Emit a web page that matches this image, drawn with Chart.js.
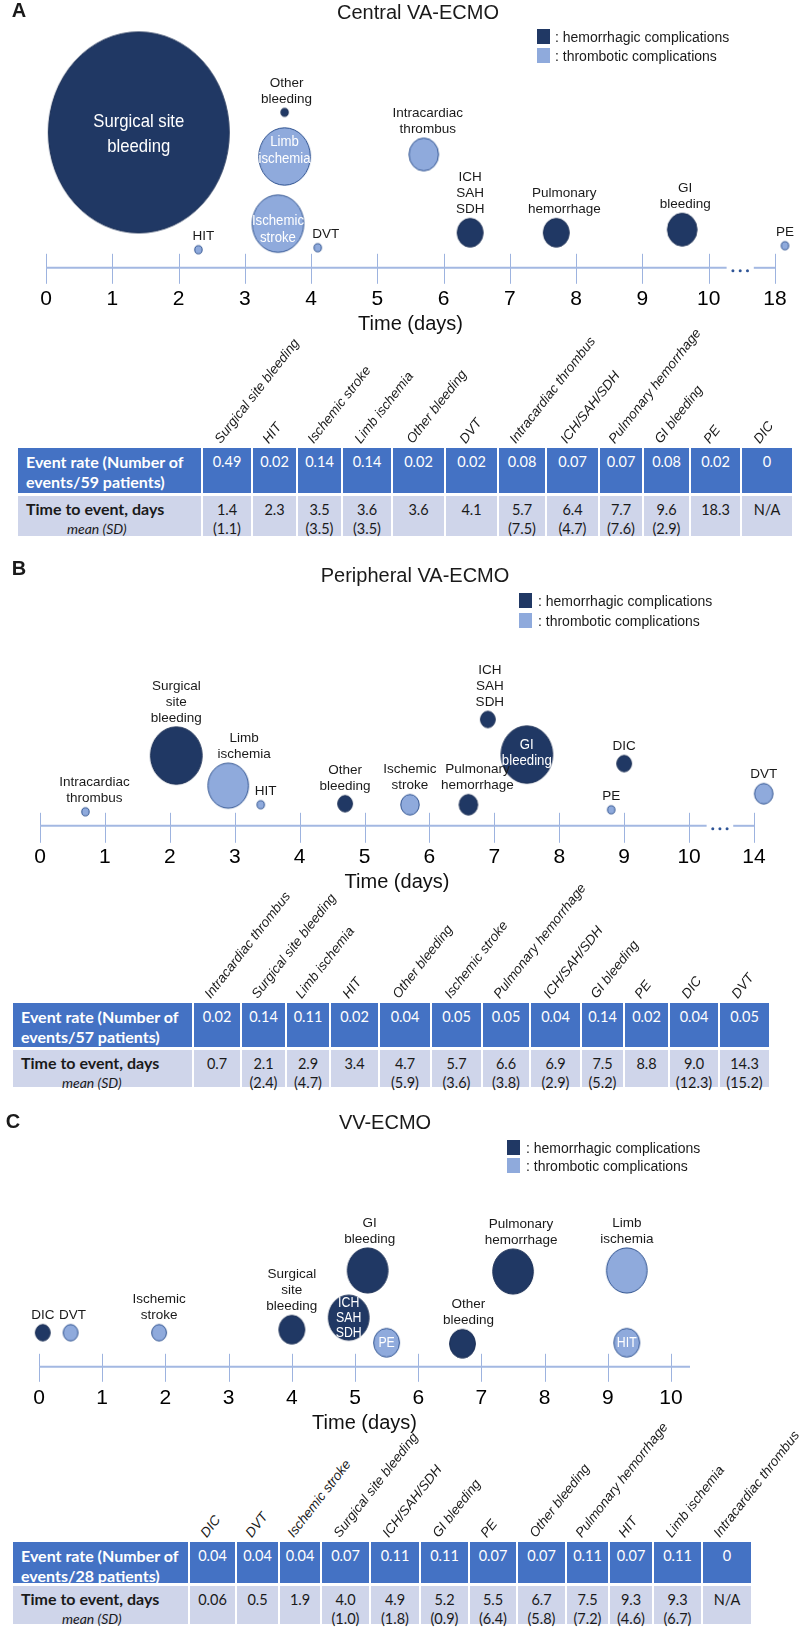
<!DOCTYPE html>
<html>
<head>
<meta charset="utf-8">
<script src="https://cdn.jsdelivr.net/npm/chart.js@4.4.1/dist/chart.umd.min.js"></script>
<style>
  body { margin: 0; background: #fff; }
  #page { position: relative; width: 800px; height: 1631px; overflow: hidden;
          font-family: Arial, "Liberation Sans", sans-serif; color: #1a1a1a; }
  #page canvas { position: absolute; left: 0; }
  .abs { position: absolute; white-space: nowrap; }
  .letter { font-weight: bold; font-size: 20px; transform: translate(-50%, -50%); }
  .title { font-size: 20px; transform: translate(-50%, -50%); }
  .legtxt { font-size: 14px; transform: translateY(-50%); }
  .sw { position: absolute; width: 13px; height: 15px; }
  .tbl { position: absolute; display: grid; column-gap: 2px; row-gap: 3px;
         font-family: Lato, "Open Sans", sans-serif; }
  .r1 { background: #4472c4; color: #fff; }
  .r2 { background: #cfd5ea; color: #1a1a1a; }
  .lab1 { font-weight: bold; font-size: 16px; line-height: 20px; padding: 4px 0 0 8px; }
  .lab2 { font-weight: bold; font-size: 16px; line-height: 19px; padding: 3px 0 0 8px; }
  .lab2 i { font-weight: normal; font-size: 14px; padding-left: 41px; }
  .val { text-align: center; font-size: 14.5px; line-height: 19px; padding-top: 4px; }
  .hdr { position: absolute; font-style: italic; font-size: 13.5px; line-height: 15px;
         white-space: nowrap; transform-origin: 0 100%; transform: rotate(-52deg); color: #1a1a1a; }
</style>
</head>
<body>
<div id="page"></div>
<script>
var ELL = 0.9;       // bubbles in the figure are slightly taller than wide
var R_SCALE = 205;   // bubble radius (px) per unit of event rate
var FONT = 'Arial, "Liberation Sans", sans-serif';
var DARK = '#203864', LIGHT = '#8faadc';

// ---- A: Central VA-ECMO ----
var namesA = ['Surgical site bleeding', 'HIT', 'Ischemic stroke', 'Limb ischemia', 'Other bleeding', 'DVT',
  'Intracardiac thrombus', 'ICH/SAH/SDH', 'Pulmonary hemorrhage', 'GI bleeding', 'PE', 'DIC'];
var ratesA = [0.49, 0.02, 0.14, 0.14, 0.02, 0.02, 0.08, 0.07, 0.07, 0.08, 0.02, 0];
var timesA = [1.4, 2.3, 3.5, 3.6, 3.6, 4.1, 5.7, 6.4, 7.7, 9.6, 18.3, null];
var sdA = [1.1, null, 3.5, 3.5, null, null, 7.5, 4.7, 7.6, 2.9, null, null];
var kindsA = ['H', 'T', 'T', 'T', 'H', 'T', 'T', 'H', 'H', 'H', 'T', 'H'];
var levelsA = [135, 18, 44, 111, 155, 20, 113, 35, 35, 38, 22, null];   // height above the axis
var ticksA = ['0', '1', '2', '3', '4', '5', '6', '7', '8', '9', '10', '18'];
var textA = [['Surgical site', 'bleeding'], ['HIT'], ['Ischemic', 'stroke'], ['Limb', 'ischemia'], ['Other', 'bleeding'],
  ['DVT'], ['Intracardiac', 'thrombus'], ['ICH', 'SAH', 'SDH'], ['Pulmonary', 'hemorrhage'], ['GI', 'bleeding'], ['PE'], ['DIC']];

// ---- B: Peripheral VA-ECMO ----
var namesB = ['Intracardiac thrombus', 'Surgical site bleeding', 'Limb ischemia', 'HIT', 'Other bleeding', 'Ischemic stroke',
  'Pulmonary hemorrhage', 'ICH/SAH/SDH', 'GI bleeding', 'PE', 'DIC', 'DVT'];
var ratesB = [0.02, 0.14, 0.11, 0.02, 0.04, 0.05, 0.05, 0.04, 0.14, 0.02, 0.04, 0.05];
var timesB = [0.7, 2.1, 2.9, 3.4, 4.7, 5.7, 6.6, 6.9, 7.5, 8.8, 9.0, 14.3];
var sdB = [null, 2.4, 4.7, null, 5.9, 3.6, 3.8, 2.9, 5.2, null, 12.3, 15.2];
var kindsB = ['T', 'H', 'T', 'T', 'H', 'T', 'H', 'H', 'H', 'T', 'H', 'T'];
var levelsB = [14, 70, 40, 21, 22, 21, 21, 106, 71, 16, 62, 32];
var ticksB = ['0', '1', '2', '3', '4', '5', '6', '7', '8', '9', '10', '14'];
var textB = [['Intracardiac', 'thrombus'], ['Surgical', 'site', 'bleeding'], ['Limb', 'ischemia'], ['HIT'], ['Other', 'bleeding'],
  ['Ischemic', 'stroke'], ['Pulmonary', 'hemorrhage'], ['ICH', 'SAH', 'SDH'], ['GI', 'bleeding'], ['PE'], ['DIC'], ['DVT']];

// ---- C: VV-ECMO ----
var namesC = ['DIC', 'DVT', 'Ischemic stroke', 'Surgical site bleeding', 'ICH/SAH/SDH', 'GI bleeding', 'PE', 'Other bleeding',
  'Pulmonary hemorrhage', 'HIT', 'Limb ischemia', 'Intracardiac thrombus'];
var ratesC = [0.04, 0.04, 0.04, 0.07, 0.11, 0.11, 0.07, 0.07, 0.11, 0.07, 0.11, 0];
var timesC = [0.06, 0.5, 1.9, 4.0, 4.9, 5.2, 5.5, 6.7, 7.5, 9.3, 9.3, null];
var sdC = [null, null, null, 1.0, 1.8, 0.9, 6.4, 5.8, 7.2, 4.6, 6.7, null];
var kindsC = ['H', 'T', 'T', 'H', 'H', 'H', 'T', 'H', 'H', 'T', 'T', 'T'];
var levelsC = [34, 34, 34, 37, 49, 96, 24, 23, 95, 24, 96, null];
var ticksC = ['0', '1', '2', '3', '4', '5', '6', '7', '8', '9', '10'];
var textC = [['DIC'], ['DVT'], ['Ischemic', 'stroke'], ['Surgical', 'site', 'bleeding'], ['ICH', 'SAH', 'SDH'], ['GI', 'bleeding'],
  ['PE'], ['Other', 'bleeding'], ['Pulmonary', 'hemorrhage'], ['HIT'], ['Limb', 'ischemia'], ['Intracardiac', 'thrombus']];

var legendNames = [': hemorrhagic complications', ': thrombotic complications'];

// where the bubble captions sit (style only)
var placeA = [{at: 'in', size: 19, lh: 25, dy: 2}, {at: 'up', dx: 5}, {at: 'in', size: 15, lh: 17, dy: 6},
  {at: 'in', size: 15, lh: 17, dy: -6}, {at: 'up', dx: 2}, {at: 'up', dx: 8}, {at: 'up', dx: 4}, {at: 'up'},
  {at: 'up', dx: 8}, {at: 'up', dx: 3}, {at: 'up'}, null];
var placeB = [{at: 'up', dx: 9}, {at: 'up'}, {at: 'up', dx: 16}, {at: 'up', dx: 5}, {at: 'up'}, {at: 'up'},
  {at: 'up', dx: 9}, {at: 'up', dx: 2}, {at: 'in', size: 15, lh: 16, dy: -2}, {at: 'up'}, {at: 'up'}, {at: 'up'}];
var placeC = [{at: 'up'}, {at: 'up', dx: 2}, {at: 'up'}, {at: 'up'}, {at: 'in', size: 14, lh: 15}, {at: 'up', dx: 2},
  {at: 'in', size: 14, lh: 15}, {at: 'up', dx: 6}, {at: 'up', dx: 8}, {at: 'in', size: 14, lh: 15}, {at: 'up'}, null];

var panels = [
  { letter: 'A', title: 'Central VA-ECMO', patients: 59, names: namesA, rates: ratesA, times: timesA, sd: sdA,
    kinds: kindsA, levels: levelsA, ticks: ticksA, text: textA, place: placeA,
    top: 0, axisY: 267, left: 46, right: 775, xMax: 11, up: 14, down: 16, gap: [10.27, 10.68],
    letterAt: [19, 10], titleAt: [418, 12], leg: [537, 29, 48, 555],
    tLeft: 18, tTop: 448, colW: [185, 50, 45, 45, 50, 53, 53, 48, 53, 44, 47, 51, 50], rowH: [45, 43] },
  { letter: 'B', title: 'Peripheral VA-ECMO', patients: 57, names: namesB, rates: ratesB, times: timesB, sd: sdB,
    kinds: kindsB, levels: levelsB, ticks: ticksB, text: textB, place: placeB,
    top: 560, axisY: 825, left: 40, right: 754, xMax: 11, up: 13, down: 17, gap: [10.27, 10.68],
    letterAt: [19, 568], titleAt: [415, 575], leg: [519, 593, 613, 538],
    tLeft: 13, tTop: 1003, colW: [181, 48, 45, 44, 49, 52, 51, 48, 51, 43, 45, 50, 49], rowH: [44, 40] },
  { letter: 'C', title: 'VV-ECMO', patients: 28, names: namesC, rates: ratesC, times: timesC, sd: sdC,
    kinds: kindsC, levels: levelsC, ticks: ticksC, text: textC, place: placeC,
    top: 1110, axisY: 1366, left: 39, right: 690, xMax: 10.3, up: 13, down: 15, gap: null,
    letterAt: [13, 1121], titleAt: [385, 1122], leg: [507, 1140, 1158, 526],
    tLeft: 13, tTop: 1542, colW: [177, 47, 43, 42, 49, 50, 49, 48, 49, 43, 44, 49, 48], rowH: [41, 41] }
];

// time in days -> position on the broken axis (last tick stands for a later day)
function axisPos(t, ticks) {
  var last = Number(ticks[ticks.length - 1]);
  if (last > 10 && t > 10) return (ticks.length - 1) + (t - last) * 0.5;
  return t;
}

function fmtRate(v) { return v === 0 ? '0' : v.toFixed(2); }
function fmtTime(v) { return v == null ? 'N/A' : (v < 0.1 ? v.toFixed(2) : v.toFixed(1)); }
function fmtSd(v) { return v == null ? '' : '(' + v.toFixed(1) + ')'; }

// point style: a slightly upright ellipse of the bubble's radius
function ellipseSprite(r, fill, stroke) {
  var c = document.createElement('canvas');
  var rx = r * ELL, ry = r;
  c.width = Math.ceil(2 * rx + 3);
  c.height = Math.ceil(2 * ry + 3);
  var g = c.getContext('2d');
  g.beginPath();
  g.ellipse(c.width / 2, c.height / 2, rx, ry, 0, 0, Math.PI * 2);
  g.fillStyle = fill;
  g.fill();
  g.lineWidth = 1;
  g.strokeStyle = stroke;
  g.stroke();
  return c;
}

var axisDeco = {
  id: 'axisDeco',
  beforeDatasetsDraw: function(chart, args, o) {
    var ctx = chart.ctx, xs = chart.scales.x, y0 = chart.chartArea.bottom;
    ctx.save();
    ctx.strokeStyle = '#9db3df';
    ctx.lineWidth = 1;
    xs.ticks.forEach(function(t) {
      var px = Math.round(xs.getPixelForValue(t.value)) + 0.5;
      ctx.beginPath(); ctx.moveTo(px, y0 - o.up); ctx.lineTo(px, y0 + o.down); ctx.stroke();
    });
    ctx.strokeStyle = '#a3b8e2';
    ctx.lineWidth = 2;
    var segs = o.gap ? [[0, o.gap[0]], [o.gap[1], xs.max]] : [[0, xs.max]];
    segs.forEach(function(s) {
      ctx.beginPath();
      ctx.moveTo(xs.getPixelForValue(s[0]), y0);
      ctx.lineTo(xs.getPixelForValue(s[1]), y0);
      ctx.stroke();
    });
    if (o.gap) {
      ctx.fillStyle = '#2f5597';
      var mid = (o.gap[0] + o.gap[1]) / 2;
      [-0.11, 0, 0.11].forEach(function(d) {
        ctx.beginPath();
        ctx.arc(xs.getPixelForValue(mid + d), y0 + 3, 1.5, 0, Math.PI * 2);
        ctx.fill();
      });
    }
    ctx.restore();
  }
};

var bubbleText = {
  id: 'bubbleText',
  afterDatasetsDraw: function(chart) {
    var ctx = chart.ctx;
    ctx.save();
    ctx.textAlign = 'center';
    ctx.textBaseline = 'middle';
    chart.data.datasets.forEach(function(ds, di) {
      chart.getDatasetMeta(di).data.forEach(function(el, i) {
        var lines = ds.texts[i], pl = ds.places[i];
        var r = el.options.radius, x = el.x + (pl.dx || 0);
        var n = lines.length, lh, y;
        if (pl.at === 'in') {
          // captions inside the bubbles are set in a narrower face
          lh = pl.lh;
          y = el.y + (pl.dy || 0) - (n - 1) * lh / 2;
          ctx.fillStyle = '#fff';
          ctx.font = pl.size + 'px ' + FONT;
          lines.forEach(function(s, k) {
            ctx.save();
            ctx.translate(x, y + k * lh);
            ctx.scale(0.88, 1);
            ctx.fillText(s, 0, 0);
            ctx.restore();
          });
        } else {
          lh = 16;
          y = el.y - r - 1 - lh / 2 - (n - 1) * lh;
          ctx.fillStyle = '#1a1a1a';
          ctx.font = '13.5px ' + FONT;
          lines.forEach(function(s, k) { ctx.fillText(s, x, y + k * lh); });
        }
      });
    });
    ctx.restore();
  }
};

function bubbleSets(p) {
  var kinds = [{k: 'H', color: DARK, border: '#1b2f55'}, {k: 'T', color: LIGHT, border: '#2f528f'}];
  return kinds.map(function(s, si) {
    var data = [], texts = [], places = [], sprites = [];
    p.names.forEach(function(n, i) {
      if (p.kinds[i] !== s.k || p.times[i] == null) return;
      var r = p.rates[i] * R_SCALE;
      data.push({x: axisPos(p.times[i], p.ticks), y: p.levels[i], r: r});
      sprites.push(ellipseSprite(r, s.color, s.border));
      texts.push(p.text[i]);
      places.push(p.place[i]);
    });
    // the sprites carry their own outline; the wide borderWidth only keeps
    // bubbles past the last tick (PE at day 18, DVT at day 14) from being culled
    return {label: legendNames[si], data: data, backgroundColor: s.color, borderColor: s.border,
      borderWidth: 16, pointStyle: sprites, clip: false, texts: texts, places: places};
  });
}

function add(cls, html, x, y) {
  var d = document.createElement('div');
  d.className = 'abs ' + cls;
  d.innerHTML = html;
  d.style.left = x + 'px';
  d.style.top = y + 'px';
  page.appendChild(d);
  return d;
}

function drawPanel(p) {
  var chartH = p.axisY - p.top;
  var h = chartH + 69;
  var cv = document.createElement('canvas');
  cv.width = 800;
  cv.height = h;
  cv.style.top = p.top + 'px';
  page.appendChild(cv);

  new Chart(cv, {
    type: 'bubble',
    data: { datasets: bubbleSets(p) },
    options: {
      responsive: false,
      devicePixelRatio: 1,
      animation: false,
      events: [],
      layout: { autoPadding: false,
                padding: { left: p.left, right: 800 - p.right, top: 0, bottom: 0 } },
      plugins: {
        legend: { display: false },
        tooltip: { enabled: false },
        axisDeco: { up: p.up, down: p.down, gap: p.gap }
      },
      scales: {
        x: {
          type: 'linear', min: 0, max: p.xMax,
          afterBuildTicks: function(s) { s.ticks = p.ticks.map(function(_, i) { return {value: i}; }); },
          grid: { display: true, drawOnChartArea: false, drawTicks: true, tickLength: 16, color: 'rgba(0,0,0,0)' },
          border: { display: false },
          ticks: { padding: 3, maxRotation: 0, autoSkip: false, color: '#000',
                   font: { size: 21, family: FONT },
                   callback: function(v, i) { return p.ticks[i]; } },
          title: { display: true, text: 'Time (days)', color: '#111',
                   font: { size: 20, family: FONT }, padding: { top: -3, bottom: 0 } }
        },
        y: { display: false, min: 0, max: chartH }
      }
    },
    plugins: [axisDeco, bubbleText]
  });

  add('letter', p.letter, p.letterAt[0], p.letterAt[1]);
  add('title', p.title, p.titleAt[0], p.titleAt[1]);
  [DARK, LIGHT].forEach(function(c, k) {
    var y = p.leg[1 + k];
    var sw = document.createElement('div');
    sw.className = 'sw';
    sw.style.background = c;
    sw.style.left = p.leg[0] + 'px';
    sw.style.top = y + 'px';
    page.appendChild(sw);
    add('legtxt', legendNames[k], p.leg[3], y + 8);
  });

  // rotated column headers
  var x = p.tLeft + p.colW[0];
  p.names.forEach(function(n, i) {
    var w = p.colW[i + 1];
    var hd = add('hdr', n, x + w / 2 - 5, p.tTop - 2 - 15);
    hd.className = 'hdr';
    x += w;
  });

  // table
  var t = document.createElement('div');
  t.className = 'tbl';
  t.style.left = p.tLeft + 'px';
  t.style.top = p.tTop + 'px';
  t.style.gridTemplateColumns = p.colW.map(function(w, i) {
    return (i < p.colW.length - 1 ? w - 2 : w) + 'px';
  }).join(' ');
  t.style.gridTemplateRows = p.rowH[0] + 'px ' + (p.rowH[1] - 3) + 'px';
  var html = '<div class="r1 lab1">Event rate (Number of<br>events/' + p.patients + ' patients)</div>';
  p.rates.forEach(function(v) { html += '<div class="r1 val">' + fmtRate(v) + '</div>'; });
  html += '<div class="r2 lab2">Time to event, days<br><i>mean (SD)</i></div>';
  p.times.forEach(function(v, i) {
    html += '<div class="r2 val">' + fmtTime(v) + '<br>' + fmtSd(p.sd[i]) + '</div>';
  });
  t.innerHTML = html;
  page.appendChild(t);
}

var page = document.getElementById('page');
panels.forEach(drawPanel);
</script>
</body>
</html>
